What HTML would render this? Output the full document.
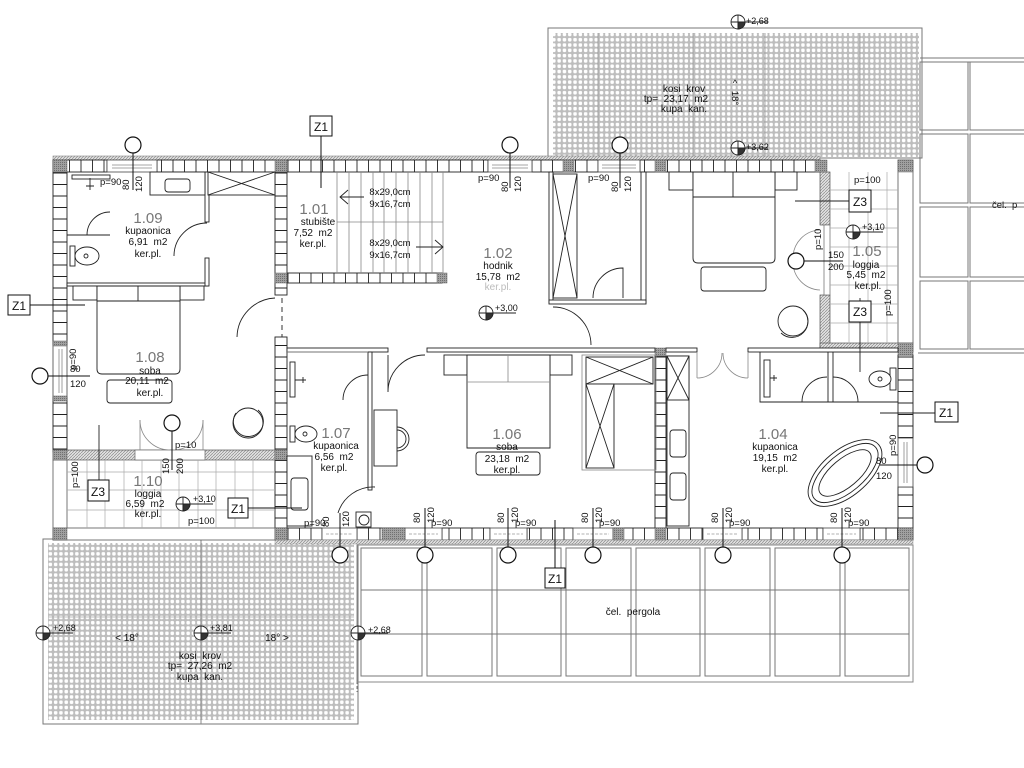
<!DOCTYPE html>
<html><head><meta charset="utf-8"><style>
html,body{margin:0;padding:0;background:#fff;}
svg{display:block}
text{font-family:"Liberation Sans",sans-serif;fill:#111;}
.t{font-size:10px;text-anchor:middle;}
.n{font-size:15px;text-anchor:middle;fill:#777;}
.s{font-size:9.5px;}
.w{fill:#fff;stroke:#222;stroke-width:0.9;}
.l{fill:none;stroke:#222;stroke-width:0.9;}
.g{fill:none;stroke:#888;stroke-width:0.8;}
.m{fill:#fff;stroke:#111;stroke-width:1.2;}
</style></head><body>
<svg width="1024" height="768" viewBox="0 0 1024 768" xmlns="http://www.w3.org/2000/svg">
<defs>
<pattern id="roof" width="5.3" height="5.3" patternUnits="userSpaceOnUse"><rect width="5.3" height="5.3" fill="#bdbdbd"/><rect x="0.9" y="0.9" width="3.5" height="3.5" rx="1.2" fill="#fff"/></pattern>
<pattern id="bh" width="11.5" height="20" patternUnits="userSpaceOnUse"><rect width="11.5" height="20" fill="#fff"/><line x1="0.5" y1="0" x2="0.5" y2="20" stroke="#222" stroke-width="0.9"/></pattern>
<pattern id="bv" width="20" height="11.5" patternUnits="userSpaceOnUse"><rect width="20" height="11.5" fill="#fff"/><line x1="0" y1="0.5" x2="20" y2="0.5" stroke="#222" stroke-width="0.9"/></pattern>
<pattern id="hatch" width="3" height="3" patternUnits="userSpaceOnUse"><rect width="3" height="3" fill="#e2e2e2"/><path d="M0,3 L3,0" stroke="#8a8a8a" stroke-width="0.7"/></pattern>
<pattern id="dk" width="2" height="2" patternUnits="userSpaceOnUse"><rect width="2" height="2" fill="#a0a0a0"/><rect width="1" height="1" fill="#707070"/></pattern>
</defs>
<rect width="1024" height="768" fill="#fff"/>

<!-- top roof -->
<rect x="548" y="28" width="374" height="130" fill="#fff" stroke="#777"/>
<rect x="553" y="33" width="366" height="124" fill="url(#roof)"/>
<path d="M598 33V157M693 33V157M765 33V157M860 33V157" stroke="#9a9a9a" stroke-width="0.8"/>
<text class="t" x="684" y="92">kosi&#160; krov</text>
<text class="t" x="676" y="102">tp=&#160; 23,17&#160; m2</text>
<text class="t" x="684" y="112">kupa&#160; kan.</text>
<text class="s" x="735" y="86" text-anchor="middle">^</text>
<text class="s" transform="translate(732,98) rotate(90)" text-anchor="middle">18°</text>

<!-- right pergola -->
<path d="M920 58H1024M920 62H1024M918 353H1024" stroke="#777" stroke-width="1"/>
<g fill="none" stroke="#777" stroke-width="1">
<rect x="920" y="62" width="48" height="68"/><rect x="970" y="62" width="60" height="68"/>
<rect x="920" y="134" width="48" height="69"/><rect x="970" y="134" width="60" height="69"/>
<rect x="920" y="207" width="48" height="70"/><rect x="970" y="207" width="60" height="70"/>
<rect x="920" y="281" width="48" height="68"/><rect x="970" y="281" width="60" height="68"/>
</g>
<text class="s" x="992" y="208">čel.&#160; p</text>

<!-- bottom-left roof -->
<rect x="43" y="539" width="315" height="185" fill="#fff" stroke="#777"/>
<rect x="48" y="543" width="306" height="177" fill="url(#roof)"/>
<path d="M201 539V724" stroke="#888"/>
<path d="M48 617H354" stroke="#aaa" stroke-width="0.7"/>
<text class="t" x="127" y="641">&lt; 18°</text>
<text class="t" x="277" y="641">18° &gt;</text>
<text class="t" x="200" y="659">kosi&#160; krov</text>
<text class="t" x="200" y="669">tp=&#160; 27,26&#160; m2</text>
<text class="t" x="200" y="680">kupa&#160; kan.</text>

<!-- bottom pergola -->
<path d="M357 541V692" stroke="#777" stroke-dasharray="3,2"/>
<rect x="357" y="545" width="556" height="137" fill="none" stroke="#888"/>
<g fill="none" stroke="#777" stroke-width="1">
<rect x="361" y="548" width="61" height="128"/><rect x="427" y="548" width="65" height="128"/>
<rect x="497" y="548" width="64" height="128"/><rect x="566" y="548" width="65" height="128"/>
<rect x="636" y="548" width="64" height="128"/><rect x="705" y="548" width="65" height="128"/>
<rect x="775" y="548" width="65" height="128"/><rect x="845" y="548" width="64" height="128"/>
<path d="M361 590H909M361 634H909"/>
</g>
<text class="t" x="633" y="615">čel.&#160; pergola</text>

<!-- OUTER WALLS -->
<rect x="53" y="156" width="767" height="4" fill="url(#hatch)" stroke="#888" stroke-width="0.6"/>
<g stroke="#222" stroke-width="0.9">
<rect x="53" y="160" width="54" height="12" fill="url(#bh)"/>
<rect x="157" y="160" width="331" height="12" fill="url(#bh)"/>
<rect x="532" y="160" width="66" height="12" fill="url(#bh)"/>
<rect x="640" y="160" width="180" height="12" fill="url(#bh)"/>
<rect x="53" y="172" width="14" height="173" fill="url(#bv)"/>
<rect x="53" y="397" width="14" height="55" fill="url(#bv)"/>
<rect x="898" y="355" width="15" height="83" fill="url(#bv)"/>
<rect x="898" y="487" width="15" height="41" fill="url(#bv)"/>
<rect x="275" y="528" width="47" height="12" fill="url(#bh)"/>
<rect x="357" y="528" width="48" height="12" fill="url(#bh)"/>
<rect x="442" y="528" width="48" height="12" fill="url(#bh)"/>
<rect x="527" y="528" width="46" height="12" fill="url(#bh)"/>
<rect x="613" y="528" width="90" height="12" fill="url(#bh)"/>
<rect x="742" y="528" width="81" height="12" fill="url(#bh)"/>
<rect x="860" y="528" width="53" height="12" fill="url(#bh)"/>
<rect x="275" y="172" width="12" height="123" fill="url(#bv)"/>
<rect x="275" y="337" width="12" height="191" fill="url(#bv)"/>
<rect x="287" y="273" width="155" height="10" fill="url(#bh)"/>
<rect x="655" y="356" width="11" height="172" fill="url(#bv)"/>
</g>
<g fill="#fff" stroke="#444" stroke-width="0.8">
<rect x="107" y="160" width="50" height="12"/><path d="M112 165H152M112 168H152" class="g"/>
<rect x="488" y="160" width="44" height="12"/><path d="M492 165H528M492 168H528" class="g"/>
<rect x="598" y="160" width="42" height="12"/><path d="M602 165H636M602 168H636" class="g"/>
<rect x="53" y="345" width="14" height="52"/><path d="M59 349V393M62 349V393" class="g"/>
<rect x="898" y="438" width="15" height="49"/><path d="M904 442V483M907 442V483" class="g"/>
<rect x="322" y="528" width="35" height="12"/>
<rect x="405" y="528" width="37" height="12"/>
<rect x="490" y="528" width="37" height="12"/>
<rect x="573" y="528" width="40" height="12"/>
<rect x="703" y="528" width="39" height="12"/>
<rect x="823" y="528" width="37" height="12"/>
</g>
<path d="M326 534H353M409 534H438M494 534H523M577 534H609M707 534H738M827 534H856" stroke="#999" stroke-dasharray="3,1.5" stroke-width="0.8"/>
<rect x="275" y="540" width="638" height="4" fill="url(#hatch)" stroke="#999" stroke-width="0.5"/>

<!-- loggia 1.10 -->
<rect x="53" y="450" width="222" height="10" fill="url(#hatch)" stroke="#555" stroke-width="0.7"/>
<rect x="135" y="450" width="70" height="10" fill="#fff" stroke="#666" stroke-width="0.7"/>
<rect x="53" y="460" width="14" height="80" fill="#fff" stroke="#555" stroke-width="0.8"/>
<rect x="53" y="528" width="222" height="12" fill="#fff" stroke="#555" stroke-width="0.8"/>
<g stroke="#aaa" stroke-width="0.7">
<path d="M67 472H275M67 490H275M67 510H275"/>
<path d="M87 460V528M105 460V528M124 460V528M142 460V528M161 460V528M179 460V528M198 460V528M216 460V528M235 460V528M253 460V528"/>
</g>

<!-- loggia 1.05 -->
<rect x="820" y="172" width="10" height="53" fill="url(#hatch)" stroke="#555" stroke-width="0.7"/>
<rect x="820" y="295" width="10" height="55" fill="url(#hatch)" stroke="#555" stroke-width="0.7"/>
<rect x="824" y="225" width="6" height="70" fill="#fff" stroke="#666" stroke-width="0.7"/>
<rect x="820" y="343" width="93" height="9" fill="url(#hatch)" stroke="#555" stroke-width="0.7"/>
<rect x="898" y="160" width="15" height="183" fill="#fff" stroke="#555" stroke-width="0.8"/>
<g stroke="#aaa" stroke-width="0.7">
<path d="M830 190H898M830 209H898M830 228H898M830 247H898M830 266H898M830 285H898M830 304H898M830 323H898"/>
<path d="M849 172V343M868 172V343M887 172V343"/>
</g>

<!-- corner blocks -->
<g fill="url(#dk)" stroke="#666" stroke-width="0.5">
<rect x="53" y="160" width="14" height="12"/><rect x="275" y="160" width="12" height="12"/>
<rect x="275" y="273" width="12" height="10"/><rect x="437" y="273" width="10" height="10"/>
<rect x="563" y="160" width="11" height="12"/><rect x="655" y="160" width="11" height="12"/>
<rect x="815" y="160" width="12" height="12"/><rect x="898" y="160" width="15" height="12"/>
<rect x="53" y="450" width="14" height="10"/><rect x="275" y="450" width="12" height="10"/>
<rect x="53" y="528" width="14" height="12"/><rect x="275" y="528" width="12" height="12"/>
<rect x="655" y="348" width="11" height="8"/><rect x="898" y="343" width="15" height="12"/>
<rect x="655" y="528" width="11" height="12"/><rect x="898" y="528" width="15" height="12"/>
<rect x="382" y="528" width="23" height="12"/><rect x="613" y="528" width="11" height="12"/>
<rect x="53" y="341" width="14" height="5"/><rect x="53" y="396" width="14" height="5"/>
</g>

<!-- thin partitions -->
<g class="w">
<rect x="67" y="283" width="141" height="3"/>
<rect x="205" y="172" width="4" height="50"/>
<rect x="205" y="258" width="4" height="28"/>
<rect x="287" y="348" width="101" height="4"/>
<rect x="427" y="348" width="228" height="4"/>
<rect x="666" y="348" width="31" height="4"/>
<rect x="748" y="348" width="150" height="4"/>
<rect x="368" y="352" width="4" height="138"/>
<rect x="641" y="172" width="5" height="131"/>
<rect x="549" y="172" width="4" height="131"/>
<rect x="549" y="300" width="97" height="4"/>
</g>
<path d="M282 298V337" stroke="#333" stroke-dasharray="5,4"/>
<path d="M287 352H368" class="g"/>

<!-- STAIR 1.01 -->
<g stroke="#888" stroke-width="0.8">
<path d="M337 172V273M349 172V273M361 172V273M373 172V273M384 172V273M396 172V273M408 172V273M420 172V273M432 172V273M443 172V273"/>
<path d="M337 222H443"/>
</g>
<path d="M340 197H364M348 190L340 197L348 204M416 247H443M435 240L443 247L435 254" class="l"/>
<text class="s" x="390" y="195" text-anchor="middle">8x29,0cm</text>
<text class="s" x="390" y="207" text-anchor="middle">9x16,7cm</text>
<text class="s" x="390" y="246" text-anchor="middle">8x29,0cm</text>
<text class="s" x="390" y="258" text-anchor="middle">9x16,7cm</text>

<!-- 1.09 fixtures -->
<rect x="72" y="175" width="38" height="4" class="w"/>
<path d="M90 178V190M86 186H94" class="l"/>
<rect x="150" y="172" width="55" height="23" class="w"/>
<rect x="165" y="179" width="25" height="13" rx="3" class="w"/>
<rect x="208" y="172" width="67" height="23" class="w"/>
<path d="M208 172L275 195M275 172L208 195" class="l"/>
<path d="M67 235H110" class="l"/>
<path d="M87 235A23 23 0 0 1 110 212" class="l"/>
<path d="M174 256A33 33 0 0 1 207 223" class="l"/>
<rect x="70" y="246" width="5" height="20" class="w"/>
<ellipse cx="87" cy="256" rx="12" ry="9" class="w"/><circle cx="86" cy="256" r="2" class="l"/>

<!-- 1.08 bed etc -->
<rect x="73" y="286" width="24" height="14" class="w"/>
<rect x="180" y="286" width="24" height="14" class="w"/>
<path d="M97 286H180V369Q180 374 175 374H102Q97 374 97 369Z" class="w"/>
<path d="M97 301H180M138 286V301" class="l"/>
<rect x="107" y="380" width="65" height="23" rx="3" class="w"/>
<circle cx="248" cy="423" r="15" class="w"/>
<path d="M236 413A15 15 0 1 0 258 410" class="l"/>
<path d="M237 337A40 40 0 0 1 275 298" class="l"/>
<path d="M140 420A30 30 0 0 0 170 450M203 420A30 30 0 0 1 173 450" class="g"/>
<path d="M140 420V450M203 420V450" class="g"/>
<path d="M99 425V480" class="l"/>

<!-- closet in hall -->
<rect x="553" y="174" width="24" height="124" class="w"/>
<path d="M553 174L577 298M577 174L553 298" class="l"/>
<path d="M593 298A30 30 0 0 1 623 268V298" class="l"/>
<path d="M553 307A38 38 0 0 1 591 345" class="l"/>

<!-- bedroom 1.03 -->
<rect x="669" y="172" width="24" height="18" class="w"/>
<rect x="775" y="172" width="22" height="18" class="w"/>
<path d="M693 172H775V258Q775 263 770 263H698Q693 263 693 258Z" class="w"/>
<path d="M693 197H775M733 172V197" class="l"/>
<rect x="701" y="267" width="65" height="24" rx="3" class="w"/>
<circle cx="793" cy="321" r="15" class="w"/>
<path d="M803 310A15 15 0 1 1 781 333" class="l"/>
<path d="M795 201H849" class="l"/>
<path d="M820 230A28 28 0 0 0 793 258M793 262A28 28 0 0 0 820 290" class="g"/>

<!-- 1.07 fixtures -->
<rect x="290" y="362" width="5" height="35" class="w"/>
<path d="M295 380H306M303 377V383" class="l"/>
<path d="M343 400A25 25 0 0 1 368 375" class="l"/>
<rect x="290" y="426" width="5" height="16" class="w"/>
<ellipse cx="306" cy="434" rx="11" ry="8" class="w"/><circle cx="305" cy="434" r="2" class="l"/>
<rect x="287" y="456" width="25" height="70" class="w"/>
<rect x="291" y="478" width="17" height="32" rx="3" class="w"/>
<path d="M338 513A37 37 0 0 1 375 487" class="l"/>
<rect x="356" y="512" width="15" height="15" class="w"/><circle cx="364" cy="520" r="5" class="l"/>

<!-- 1.06 -->
<path d="M388 392A37 37 0 0 1 425 355M388 355V392" class="l"/>
<rect x="444" y="355" width="23" height="20" class="w"/>
<rect x="550" y="355" width="22" height="20" class="w"/>
<path d="M467 355H550V448H467Z" class="w"/>
<path d="M467 382H550M508 355V382" class="g"/>
<rect x="476" y="452" width="64" height="23" rx="3" class="w"/>
<rect x="374" y="410" width="23" height="56" class="w"/>
<path d="M397 427A12 12 0 0 1 397 451" class="l"/>
<path d="M397 430A9 9 0 0 1 397 448" class="l"/>
<rect x="586" y="357" width="67" height="27" class="w"/>
<path d="M586 357L653 384M653 357L586 384" class="l"/>
<rect x="586" y="384" width="28" height="84" class="w"/>
<path d="M586 384L614 468M614 384L586 468" class="l"/>
<rect x="582" y="355" width="74" height="115" class="g"/>

<!-- 1.04 -->
<rect x="667" y="356" width="22" height="170" class="w"/>
<rect x="667" y="356" width="22" height="44" class="w"/>
<path d="M667 356L689 400M689 356L667 400" class="l"/>
<rect x="670" y="430" width="16" height="27" rx="3" class="w"/>
<rect x="670" y="473" width="16" height="27" rx="3" class="w"/>
<path d="M697 378A25 25 0 0 0 722 353M748 378A25 25 0 0 1 723 353" class="g"/>
<path d="M697 352V378M748 352V378" class="g"/>
<path d="M760 352V402H898M828 352V402M833 352V402" class="l"/>
<rect x="764" y="360" width="6" height="37" class="w"/>
<path d="M770 378H777M774 375V381" class="l"/>
<path d="M802 402A25 25 0 0 1 827 377M858 402A25 25 0 0 0 833 377" class="l"/>
<rect x="890" y="368" width="6" height="22" class="w"/>
<ellipse cx="880" cy="379" rx="11" ry="8" class="w"/><circle cx="880" cy="379" r="2" class="l"/>
<g transform="translate(845,473) rotate(-40)">
<ellipse rx="44" ry="23" class="w"/>
<ellipse rx="40" ry="19" class="l"/>
<ellipse rx="32" ry="14" class="l"/>
</g>
<path d="M860 298V372" class="l"/>
<path d="M880 413H935" class="l"/>

<!-- room labels -->
<text class="n" x="148" y="223">1.09</text>
<text class="t" x="148" y="234">kupaonica</text>
<text class="t" x="148" y="245">6,91&#160; m2</text>
<text class="t" x="148" y="257">ker.pl.</text>

<text class="n" x="314" y="214">1.01</text>
<text class="t" x="318" y="225">stubište</text>
<text class="t" x="313" y="236">7,52&#160; m2</text>
<text class="t" x="313" y="247">ker.pl.</text>

<text class="n" x="498" y="258">1.02</text>
<text class="t" x="498" y="269">hodnik</text>
<text class="t" x="498" y="280">15,78&#160; m2</text>
<text class="t" x="498" y="290" style="fill:#bbb">ker.pl.</text>

<text class="n" x="150" y="362">1.08</text>
<text class="t" x="150" y="374">soba</text>
<text class="t" x="147" y="384">20,11&#160; m2</text>
<text class="t" x="150" y="396">ker.pl.</text>

<text class="n" x="336" y="438">1.07</text>
<text class="t" x="336" y="449">kupaonica</text>
<text class="t" x="334" y="460">6,56&#160; m2</text>
<text class="t" x="334" y="471">ker.pl.</text>

<text class="n" x="507" y="439">1.06</text>
<text class="t" x="507" y="450">soba</text>
<text class="t" x="507" y="462">23,18&#160; m2</text>
<text class="t" x="507" y="473">ker.pl.</text>

<text class="n" x="773" y="439">1.04</text>
<text class="t" x="775" y="450">kupaonica</text>
<text class="t" x="775" y="461">19,15&#160; m2</text>
<text class="t" x="775" y="472">ker.pl.</text>

<text class="n" x="867" y="256">1.05</text>
<text class="t" x="866" y="268">loggia</text>
<text class="t" x="866" y="278">5,45&#160; m2</text>
<text class="t" x="868" y="289">ker.pl.</text>

<text class="n" x="148" y="486">1.10</text>
<text class="t" x="148" y="497">loggia</text>
<text class="t" x="145" y="507">6,59&#160; m2</text>
<text class="t" x="148" y="517">ker.pl.</text>

<!-- window dimension texts -->
<text class="s" x="100" y="185">p=90</text>
<text class="s" transform="translate(129,190) rotate(-90)">80</text>
<text class="s" transform="translate(142,192) rotate(-90)">120</text>
<text class="s" x="478" y="181">p=90</text>
<text class="s" transform="translate(508,192) rotate(-90)">80</text>
<text class="s" transform="translate(521,192) rotate(-90)">120</text>
<text class="s" x="588" y="181">p=90</text>
<text class="s" transform="translate(618,192) rotate(-90)">80</text>
<text class="s" transform="translate(631,192) rotate(-90)">120</text>
<text class="s" transform="translate(76,370) rotate(-90)">p=90</text>
<text class="s" x="70" y="372">80</text>
<text class="s" x="70" y="387">120</text>
<text class="s" x="175" y="448">p=10</text>
<text class="s" transform="translate(169,474) rotate(-90)">150</text>
<text class="s" transform="translate(183,474) rotate(-90)">200</text>
<text class="s" transform="translate(78,488) rotate(-90)">p=100</text>
<text class="s" x="188" y="524">p=100</text>
<text class="s" x="854" y="183">p=100</text>
<text class="s" transform="translate(821,250) rotate(-90)">p=10</text>
<text class="s" x="828" y="258">150</text>
<text class="s" x="828" y="270">200</text>
<text class="s" transform="translate(891,316) rotate(-90)">p=100</text>
<text class="s" transform="translate(896,456) rotate(-90)">p=90</text>
<text class="s" x="876" y="464">80</text>
<text class="s" x="876" y="479">120</text>
<text class="s" x="304" y="526">p=90</text>
<text class="s" transform="translate(329,527) rotate(-90)">80</text>
<text class="s" transform="translate(349,527) rotate(-90)">120</text>
<g>
<text class="s" transform="translate(420,523) rotate(-90)">80</text><text class="s" transform="translate(434,523) rotate(-90)">120</text><text class="s" x="431" y="526">p=90</text>
<text class="s" transform="translate(504,523) rotate(-90)">80</text><text class="s" transform="translate(518,523) rotate(-90)">120</text><text class="s" x="515" y="526">p=90</text>
<text class="s" transform="translate(588,523) rotate(-90)">80</text><text class="s" transform="translate(602,523) rotate(-90)">120</text><text class="s" x="599" y="526">p=90</text>
<text class="s" transform="translate(718,523) rotate(-90)">80</text><text class="s" transform="translate(732,523) rotate(-90)">120</text><text class="s" x="729" y="526">p=90</text>
<text class="s" transform="translate(837,523) rotate(-90)">80</text><text class="s" transform="translate(851,523) rotate(-90)">120</text><text class="s" x="848" y="526">p=90</text>
</g>

<!-- marker lines -->
<g stroke="#111" stroke-width="1">
<path d="M133 153V190M510 153V188M620 153V188M48 376H90M172 431V470M340 547V513M425 547V508M508 547V508M593 547V508M723 547V508M842 547V508M917 465H880M804 261H843M321 136V188M30 305H85M555 568V520M248 508H302"/>
</g>
<g class="m">
<circle cx="133" cy="145" r="8"/><circle cx="510" cy="145" r="8"/><circle cx="620" cy="145" r="8"/>
<circle cx="40" cy="376" r="8"/><circle cx="172" cy="423" r="8"/>
<circle cx="340" cy="555" r="8"/><circle cx="425" cy="555" r="8"/><circle cx="508" cy="555" r="8"/>
<circle cx="593" cy="555" r="8"/><circle cx="723" cy="555" r="8"/><circle cx="842" cy="555" r="8"/>
<circle cx="925" cy="465" r="8"/><circle cx="796" cy="261" r="8"/>
</g>

<!-- Z labels -->
<g fill="#fff" stroke="#111" stroke-width="1">
<rect x="310" y="116" width="22" height="20"/>
<rect x="8" y="295" width="22" height="20"/>
<rect x="88" y="480" width="21" height="21"/>
<rect x="228" y="498" width="20" height="20"/>
<rect x="545" y="568" width="20" height="20"/>
<rect x="935" y="402" width="23" height="20"/>
<rect x="849" y="190" width="22" height="22"/>
<rect x="849" y="301" width="22" height="21"/>
</g>
<g style="font-size:12px;text-anchor:middle">
<text x="321" y="131">Z1</text>
<text x="19" y="310">Z1</text>
<text x="98" y="496">Z3</text>
<text x="238" y="513">Z1</text>
<text x="555" y="583">Z1</text>
<text x="946" y="417">Z1</text>
<text x="860" y="206">Z3</text>
<text x="860" y="316">Z3</text>
</g>

<!-- elevation markers -->
<g stroke="#222" stroke-width="0.9">
<g transform="translate(738,22)"><circle r="7" fill="#fff"/><path d="M0 0H7A7 7 0 0 1 0 7Z" fill="#333"/><path d="M-7 0H30M0 -7V7" fill="none"/></g>
<g transform="translate(738,148)"><circle r="7" fill="#fff"/><path d="M0 0H7A7 7 0 0 1 0 7Z" fill="#333"/><path d="M-7 0H30M0 -7V7" fill="none"/></g>
<g transform="translate(853,232)"><circle r="7" fill="#fff"/><path d="M0 0H7A7 7 0 0 1 0 7Z" fill="#333"/><path d="M-7 0H30M0 -7V7" fill="none"/></g>
<g transform="translate(486,313)"><circle r="7" fill="#fff"/><path d="M0 0H7A7 7 0 0 1 0 7Z" fill="#333"/><path d="M-7 0H30M0 -7V7" fill="none"/></g>
<g transform="translate(183,504)"><circle r="7" fill="#fff"/><path d="M0 0H7A7 7 0 0 1 0 7Z" fill="#333"/><path d="M-7 0H30M0 -7V7" fill="none"/></g>
<g transform="translate(43,633)"><circle r="7" fill="#fff"/><path d="M0 0H7A7 7 0 0 1 0 7Z" fill="#333"/><path d="M-7 0H30M0 -7V7" fill="none"/></g>
<g transform="translate(201,633)"><circle r="7" fill="#fff"/><path d="M0 0H7A7 7 0 0 1 0 7Z" fill="#333"/><path d="M-7 0H30M0 -7V7" fill="none"/></g>
<g transform="translate(358,633)"><circle r="7" fill="#fff"/><path d="M0 0H7A7 7 0 0 1 0 7Z" fill="#333"/><path d="M-7 0H30M0 -7V7" fill="none"/></g>
</g>
<g style="font-size:9px">
<text x="746" y="24">+2,68</text>
<text x="746" y="150">+3,62</text>
<text x="862" y="230">+3,10</text>
<text x="495" y="311">+3,00</text>
<text x="193" y="502">+3,10</text>
<text x="53" y="631">+2,68</text>
<text x="210" y="631">+3,81</text>
<text x="368" y="633">+2,68</text>
</g>
</svg>
</body></html>
